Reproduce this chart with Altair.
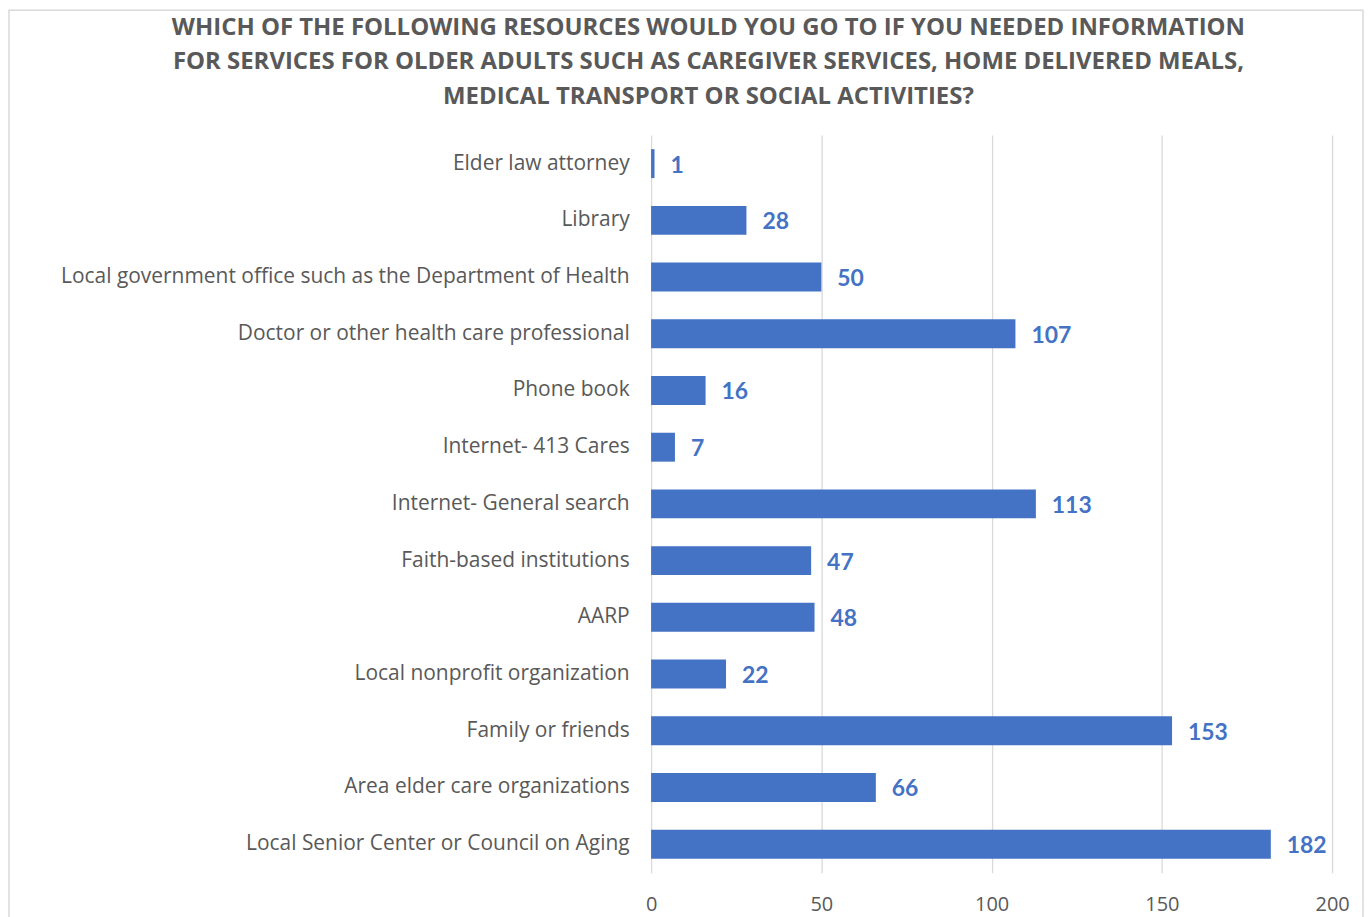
import altair as alt
import pandas as pd

categories = [
    "Elder law attorney",
    "Library",
    "Local government office such as the Department of Health",
    "Doctor or other health care professional",
    "Phone book",
    "Internet- 413 Cares",
    "Internet- General search",
    "Faith-based institutions ",
    "AARP",
    "Local nonprofit organization",
    "Family or friends",
    "Area elder care organizations",
    "Local Senior Center or Council on Aging",
]
counts = [1, 28, 50, 107, 16, 7, 113, 47, 48, 22, 153, 66, 182]
x_ticks = [0, 50, 100, 150, 200]

title_lines = [
    "WHICH OF THE FOLLOWING RESOURCES WOULD YOU GO TO IF YOU NEEDED INFORMATION",
    "FOR SERVICES FOR OLDER ADULTS SUCH AS CAREGIVER SERVICES, HOME DELIVERED MEALS,",
    "MEDICAL TRANSPORT OR SOCIAL ACTIVITIES?",
]

df = pd.DataFrame({"cat": categories, "n": counts})

FONT = "Open Sans"
GRAY = "#595959"
BLUE = "#4472C4"

y_enc = alt.Y("cat:N", sort=categories, title=None,
              scale=alt.Scale(paddingInner=0.49, paddingOuter=0.25),
              axis=alt.Axis(domain=False, ticks=False, grid=False, labelFontSize=21,
                            labelColor=GRAY, labelFont=FONT, labelPadding=22,
                            labelLimit=700))
x_enc = alt.X("n:Q", title=None,
              scale=alt.Scale(domain=[0, 200], nice=False),
              axis=alt.Axis(values=x_ticks, domain=False, ticks=False, labelFontSize=20,
                            labelColor=GRAY, labelFont=FONT, labelPadding=22,
                            labelFlush=False,
                            gridColor="#D9D9D9", gridWidth=1.3))

bars = alt.Chart(df).mark_bar(color=BLUE).encode(x=x_enc, y=y_enc)
labels = alt.Chart(df).mark_text(align="left", baseline="middle", dx=16, dy=2,
                                 font="Lato", fontSize=23, fontWeight="bold",
                                 color=BLUE).encode(
    x="n:Q", y=alt.Y("cat:N", sort=categories), text="n:Q")

border = alt.Chart(pd.DataFrame({"a": [0]})).mark_rect(
    fillOpacity=0, stroke="#D9D9D9", strokeWidth=1.5, clip=False).encode(
    x=alt.value(-644), x2=alt.value(714), y=alt.value(-125), y2=alt.value(800))

chart = alt.layer(border, bars, labels).properties(
    width=683, height=740,
    padding=0,
    background="white",
    title=alt.Title(title_lines, font=FONT, fontSize=24, fontWeight="bold",
                    color=GRAY, anchor="middle", lineHeight=35, offset=-100,
                    frame="group", dx=-284),
).configure_view(stroke="transparent", strokeWidth=0)

chart.save("out.html", embed_options={"renderer": "svg", "actions": False})
